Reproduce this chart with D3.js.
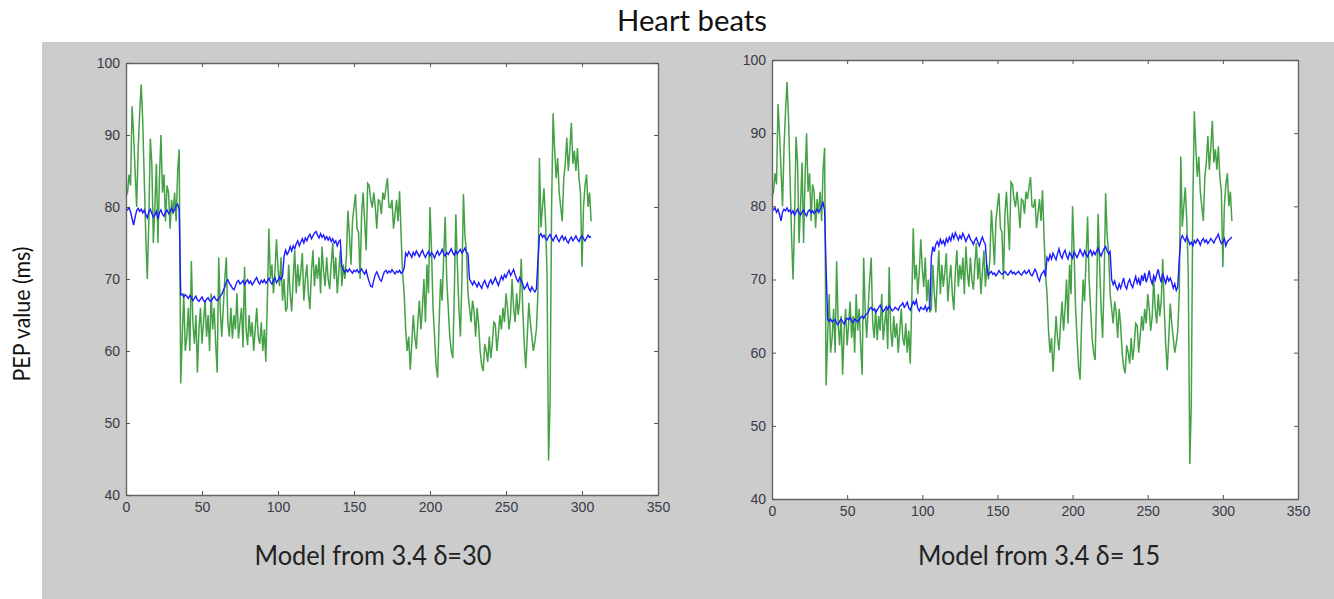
<!DOCTYPE html>
<html>
<head>
<meta charset="utf-8">
<script src="https://cdn.jsdelivr.net/npm/d3@7.9.0/dist/d3.min.js"></script>
<style>
  body { margin: 0; background: #fff; }
  svg { display: block; }
  .tick text { font-family: "Liberation Sans", Arial, sans-serif; font-size: 14px; fill: #3a3a48; }
  .tick line { stroke: #555; }
  .domain { stroke: #666; stroke-width: 1.4; }
</style>
</head>
<body>
<svg width="1334" height="599"></svg>
<script>
// observed PEP per heart beat (same for both panels)
const observed = [
  81.5, 82, 84.5, 83, 94, 90, 85, 80, 88, 93,
  97, 92, 84, 76, 70, 78, 89.5, 86, 75, 80,
  86, 75, 84, 90, 82, 84.5, 78, 83, 82, 77,
  81, 79, 82, 78, 85, 88, 55.5, 62, 68, 60,
  62, 66, 60, 72.5, 64, 61, 65, 57, 63, 66,
  61, 64, 67, 62, 65, 60, 68, 63, 66, 61,
  57, 73, 65.8, 62, 66, 70, 73, 64, 62, 66,
  61.7, 65, 63, 68, 61.7, 64, 66, 60.5, 71.7, 63,
  60.8, 65, 62, 64, 60, 63, 66, 62, 61, 64,
  60, 63, 58.5, 67, 77, 70, 72, 68, 71, 75.5,
  71.5, 69, 73, 67, 70, 65.5, 66, 72, 68, 65.5,
  70, 74, 68, 72, 69, 71, 73.6, 67, 70, 72,
  68, 65.8, 71, 74, 69, 72, 70, 73, 68, 74.5,
  71, 69, 73, 70, 68.6, 72, 75, 70, 73, 68,
  71, 74, 69, 72, 70, 73, 79.5, 76, 72, 78,
  80, 81.8, 77, 76.5, 70, 79, 82, 78, 74, 83.3,
  83, 81, 79.9, 82, 80, 77, 81, 80.8, 79, 82,
  81, 82.6, 84, 80, 79.9, 81, 77, 79, 81, 78,
  82.2, 76, 70.8, 68, 63, 60, 62, 57.4, 61, 65,
  62, 60.3, 64, 67, 63, 66, 70, 64, 72, 68,
  80, 74, 66, 62, 58, 56.3, 64, 70, 67, 73,
  78.6, 70, 66, 62, 60, 59, 68, 79, 72, 66,
  62, 70, 81.8, 76, 73.7, 68, 66, 64, 67, 65.5,
  62, 66, 63.7, 60, 58, 57.2, 61, 60, 58.5, 62,
  59, 61, 64, 63.7, 60, 62.3, 65, 63, 66, 64,
  68, 66, 63, 65, 70, 66, 64, 68, 65, 67,
  72.8, 66, 61, 57.6, 62, 66.7, 64, 62, 60, 61.3,
  63, 68, 86.8, 77.2, 80, 82.6, 78, 70.8, 44.8, 53,
  80, 93, 88, 84, 86.8, 82, 80, 78, 84, 86,
  89.6, 85, 88, 91.7, 86, 87.8, 85, 88.2, 84, 82,
  71.7, 80, 83, 84.5, 80, 82, 78
];

// model estimate, delta = 30
const model30 = [
  79.8, 79.6, 79.9, 79.3, 78.4, 77.5, 78.6, 79.5, 79.8, 79.4,
  79.7, 79.2, 79.6, 79.0, 78.5, 79.3, 79.7, 79.1, 78.6, 78.9,
  79.4, 78.3, 79.2, 79.6, 79.0, 78.7, 79.3, 79.6, 79.1, 79.4,
  79.8, 79.3, 79.6, 80.2, 80.4, 79.6, 67.8, 67.9, 67.5, 67.8,
  67.6, 67.3, 67.7, 67.4, 67.0, 67.3, 67.6, 67.1, 66.9, 67.2,
  67.5, 67.0, 66.8, 67.2, 67.4, 67.0, 66.9, 67.3, 67.6, 67.2,
  67.0, 67.3, 67.6, 67.9, 68.4, 68.9, 69.6, 69.9, 69.4, 69.1,
  68.7, 68.5, 69.0, 69.6, 69.8, 69.3, 69.5, 69.8, 69.2, 69.6,
  69.9, 69.4, 69.7, 69.2, 69.5, 69.9, 70.2, 69.6, 69.3, 69.8,
  69.5, 69.9, 69.4, 69.7, 70.1, 69.6, 69.3, 69.8, 70.2, 69.5,
  69.8, 70.3, 69.9, 70.4, 73.2, 74.0, 73.4, 73.8, 74.5, 73.9,
  74.6, 74.2, 74.9, 75.3, 74.6, 75.1, 75.6, 75.0, 75.7, 75.3,
  75.9, 76.2, 75.6, 76.0, 76.4, 76.6, 76.1, 75.7, 76.3, 75.8,
  76.1, 75.5, 75.9, 75.4, 75.8, 75.2, 75.6, 75.0, 75.3, 74.6,
  75.2, 75.4, 71.8, 71.2, 70.9, 71.3, 71.0, 71.4, 71.1, 70.8,
  71.2, 71.0, 71.3, 70.9, 71.1, 71.4, 71.0, 70.7, 71.2, 70.3,
  69.6, 69.0, 68.9, 69.8, 70.6, 71.0, 70.5, 69.9, 69.7, 70.4,
  71.0, 71.2, 70.8, 71.1, 70.9, 71.3, 71.0, 70.7, 71.1, 70.9,
  71.2, 70.8, 71.0, 71.5, 73.6, 73.2, 73.8, 73.4, 73.0, 73.7,
  73.3, 73.9, 73.5, 73.1, 73.6, 74.0, 73.4, 73.0, 73.5, 73.8,
  73.2, 73.7, 73.4, 72.9, 73.5, 73.9, 73.3, 73.6, 74.1, 73.5,
  73.2, 73.7, 73.4, 73.8, 74.2, 73.6, 73.3, 73.9, 73.5, 73.8,
  74.1, 73.6, 73.9, 74.3, 73.7, 73.5, 70.0, 69.6, 69.2, 69.7,
  69.3, 68.9, 69.5, 69.1, 68.7, 69.4, 69.8, 69.2, 68.8, 69.5,
  69.9, 69.3, 69.7, 70.2, 69.6, 69.1, 69.8, 70.4, 69.9, 70.6,
  70.2, 70.8, 71.2, 70.5, 70.9, 71.3, 70.6, 70.0, 69.6, 70.2,
  69.8, 69.3, 68.6, 68.9, 69.4, 68.7, 68.3, 68.9, 68.5, 68.2,
  68.6, 72.5, 76.0, 76.3, 75.8, 76.1, 75.6, 75.4, 75.9, 76.2,
  75.7, 75.3, 75.8, 76.1, 75.5, 75.2, 75.7, 76.0, 75.4, 75.8,
  75.3, 75.0, 75.5, 75.8, 75.3, 75.6, 76.0, 75.5, 75.2, 75.7,
  76.0, 75.6, 75.3, 75.7, 76.1, 75.8, 75.9
];

// model estimate, delta = 15
const model15 = [
  79.7, 79.5, 79.8, 79.2, 79.6, 78.9, 78.0, 79.2, 79.6, 79.4,
  79.8, 79.3, 79.5, 79.0, 79.4, 78.8, 79.2, 79.6, 79.1, 78.8,
  79.2, 79.5, 79.0, 78.7, 79.3, 79.5, 79.1, 79.4, 79.0, 79.3,
  79.6, 79.2, 79.5, 80.0, 80.5, 79.4, 71.7, 64.5, 64.3, 64.6,
  64.2, 64.4, 64.5, 64.0, 63.8, 64.3, 64.6, 64.2, 63.9, 64.4,
  64.7, 64.5, 64.8, 64.3, 64.1, 64.6, 64.4, 64.2, 64.5, 64.8,
  65.0, 64.7, 65.1, 65.3, 65.5, 66.0, 66.2, 65.8, 66.0, 65.5,
  65.8, 66.2, 66.5, 66.0, 65.6, 65.9, 66.3, 65.9, 66.4, 66.1,
  65.7, 65.9, 66.2, 66.0, 65.8, 66.3, 66.5, 66.8, 66.2, 66.5,
  66.9, 66.1, 65.8, 66.4, 67.0, 66.6, 67.2, 66.1, 65.7, 66.2,
  66.0, 65.9, 66.4, 65.7, 66.2, 66.0, 73.0, 74.5, 73.8, 74.8,
  75.2, 74.6, 75.5, 74.9, 75.3, 74.7, 75.6, 75.1, 75.8, 75.3,
  76.2, 75.6, 76.4, 75.9, 75.4, 76.0, 75.6, 76.3, 75.8, 75.2,
  75.7, 76.1, 75.5, 75.2, 74.8, 75.4, 75.7, 75.1, 74.6, 75.3,
  75.8, 75.2, 74.8, 71.5, 70.6, 70.9, 71.1, 70.7, 70.9, 70.5,
  70.8, 71.2, 70.9, 70.7, 70.9, 71.1, 70.8, 70.6, 70.9, 71.2,
  70.8, 71.0, 70.7, 70.9, 71.1, 70.8, 70.6, 70.9, 71.2, 70.8,
  71.0, 71.3, 70.7, 70.5, 70.9, 71.4, 71.0, 70.2, 69.8, 70.6,
  70.9, 71.2, 70.4, 73.0, 72.6, 73.4, 72.8, 73.6, 73.1, 72.7,
  73.5, 74.2, 73.3, 72.9, 73.6, 74.0, 73.2, 72.8, 73.7, 73.3,
  72.9, 73.8, 73.4, 73.0, 73.5, 74.1, 73.6, 73.2, 73.9, 73.4,
  73.1, 73.7, 74.0, 73.3, 73.8, 73.4, 73.9, 74.3, 73.6, 73.2,
  73.8, 74.2, 74.5, 73.9, 73.5, 73.8, 70.0, 69.3, 69.8, 69.0,
  68.6, 69.4, 68.8, 69.5, 70.2, 69.1, 68.7, 69.6, 70.0, 69.3,
  68.9, 69.7, 70.4, 69.5, 70.1, 69.2, 70.6, 69.8, 70.9, 69.6,
  70.3, 71.2, 70.0, 69.4, 70.5, 69.9, 70.7, 71.4, 70.3, 69.6,
  70.8, 70.1, 69.5, 70.4, 69.8, 70.2, 69.6, 68.8, 69.4, 68.5,
  69.0, 72.8, 75.5, 76.0, 75.6, 75.2, 75.9, 75.4, 74.8, 75.1,
  74.6, 75.3, 75.0, 75.5, 75.2, 74.7, 75.3, 75.6, 75.1, 75.4,
  74.9, 75.2, 75.6, 75.3, 75.0, 75.5, 75.8, 76.2, 75.4, 74.9,
  75.1, 75.6, 74.6, 75.2, 75.4, 75.6, 75.8
];

const xTicks = [0, 50, 100, 150, 200, 250, 300, 350];
const yTicks = [40, 50, 60, 70, 80, 90, 100];

let svg = d3.select('svg');
const labelFont = 'Lato, "Open Sans", sans-serif';

svg.append('rect')
  .attr('x', 42).attr('y', 42)
  .attr('width', 1292).attr('height', 557)
  .attr('fill', '#cccccc');

svg.append('text')
  .attr('x', 692).attr('y', 31)
  .attr('text-anchor', 'middle')
  .attr('font-family', labelFont)
  .attr('font-size', 28)
  .attr('textLength', 150)
  .attr('lengthAdjust', 'spacingAndGlyphs')
  .attr('fill', '#111')
  .text('Heart beats');

svg.append('text')
  .attr('transform', 'translate(30,314) rotate(-90)')
  .attr('text-anchor', 'middle')
  .attr('font-family', labelFont)
  .attr('font-size', 23)
  .attr('textLength', 135)
  .attr('lengthAdjust', 'spacingAndGlyphs')
  .attr('fill', '#111')
  .text('PEP value (ms)');

function drawPanel(box, model, caption, captionX, captionW) {
  let x = d3.scaleLinear().domain([0, 350]).range([box.left, box.right]);
  let y = d3.scaleLinear().domain([40, 100]).range([box.bottom, box.top]);
  let g = svg.append('g');

  g.append('rect')
    .attr('x', box.left).attr('y', box.top)
    .attr('width', box.right - box.left).attr('height', box.bottom - box.top)
    .attr('fill', '#fff');

  let line = d3.line().x((d, i) => x(i)).y((d) => y(d));

  g.append('path')
    .datum(observed)
    .attr('d', line)
    .attr('fill', 'none')
    .attr('stroke', '#168a16')
    .attr('stroke-opacity', 0.8)
    .attr('stroke-width', 1.5);

  g.append('path')
    .datum(model)
    .attr('d', line)
    .attr('fill', 'none')
    .attr('stroke', '#1c1cff')
    .attr('stroke-width', 1.4);

  g.append('g')
    .attr('transform', `translate(0,${box.bottom})`)
    .call(d3.axisBottom(x).tickValues(xTicks).tickSizeInner(-4).tickSizeOuter(0).tickPadding(7));
  g.append('g')
    .attr('transform', `translate(0,${box.top})`)
    .call(d3.axisTop(x).tickValues(xTicks).tickSizeInner(-4).tickSizeOuter(0).tickFormat(''));
  g.append('g')
    .attr('transform', `translate(${box.left},0)`)
    .call(d3.axisLeft(y).tickValues(yTicks).tickSizeInner(-4).tickSizeOuter(0).tickPadding(6));
  g.append('g')
    .attr('transform', `translate(${box.right},0)`)
    .call(d3.axisRight(y).tickValues(yTicks).tickSizeInner(-4).tickSizeOuter(0).tickFormat(''));

  g.append('text')
    .attr('x', captionX).attr('y', 565)
    .attr('text-anchor', 'middle')
    .attr('font-family', labelFont)
    .attr('font-size', 26)
    .attr('textLength', captionW)
    .attr('lengthAdjust', 'spacingAndGlyphs')
    .attr('fill', '#222')
    .text(caption);
}

drawPanel({ left: 126, right: 658, top: 63, bottom: 495 }, model30, 'Model from 3.4 δ=30', 373, 237);
drawPanel({ left: 772, right: 1298, top: 60, bottom: 499 }, model15, 'Model from 3.4 δ= 15', 1039, 242);
</script>
</body>
</html>
